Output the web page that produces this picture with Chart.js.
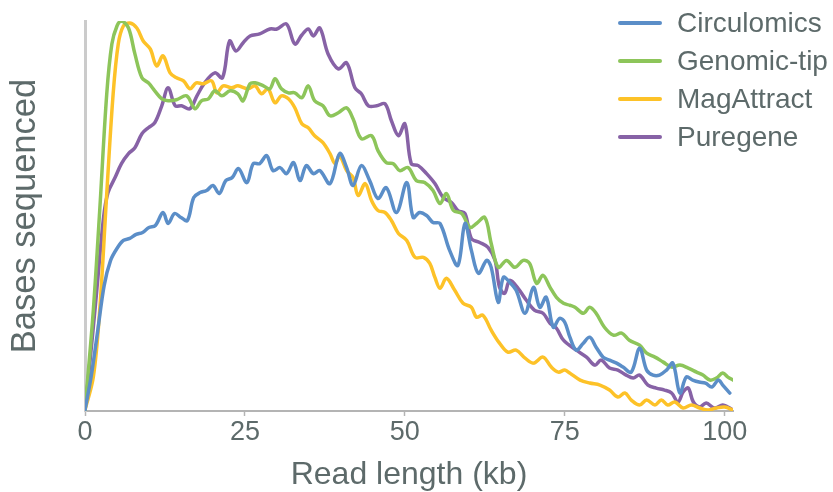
<!DOCTYPE html>
<html><head><meta charset="utf-8">
<script src="https://cdn.jsdelivr.net/npm/chart.js@4.4.0/dist/chart.umd.min.js"></script>
<style>
html,body{margin:0;padding:0;background:#fff;}
#wrap{position:relative;width:833px;height:492px;}
#legend{position:absolute;left:618px;top:4px;font-family:'Liberation Sans',Arial,sans-serif;font-size:28px;color:#5d6a6a;}
.item{display:flex;align-items:center;height:38px;white-space:nowrap;}
.sw{width:44px;height:4px;border-radius:2px;margin-right:15px;flex:none;}
</style></head><body>
<div id="wrap"><canvas id="c" width="833" height="492"></canvas><div id="legend"></div></div>
<script>
const seriesNames = ['Circulomics', 'Genomic-tip', 'MagAttract', 'Puregene'];
const seriesColors = ['#5b8ec8', '#8dc55a', '#fdc228', '#8762a6'];
const xTicks = [0, 25, 50, 75, 100];

const circX = [0,1,2,3,4,5,6,7,8,9,10,11,12.2,13,14,15,16,17,18,19,20,21,22,23,24,25.3,26.3,27.3,28.4,29.4,30.5,31.5,32.6,33.6,34.6,35.7,36.7,38.3,39.8,40.9,41.9,43.2,44.5,45.8,47.1,48.7,50.3,51.3,52.3,53.4,54.4,55.5,57,58.3,59.4,60.4,61.5,62.8,63.5,64.6,65.4,66.4,67.4,68.8,70.1,71.1,72.1,73.2,74.2,75,75.8,76.8,77.9,78.9,79.9,81,82,83.1,84.1,85.4,86.7,87.8,88.8,89.8,90.9,91.9,93,94,95,96,97,98,99,99.7,100.8];
const circY = [0,35,80,125,150,162,170,172,176,178,183,185,198,187,197,193,190,213,218,220,225,217,230,233,242,228,247,247,255,240,243,237,248,230,245,237,240,227,257,243,225,245,230,212,223,198,228,193,198,195,188,187,160,145,187,160,137,150,143,108,133,128,120,97,123,103,113,83,92,88,73,60,67,73,63,53,50,47,43,38,62,40,35,35,40,47,17,33,30,28,27,23,30,25,17];

const gtipX = [0,1.3,2.3,3.4,4.2,5,5.7,6.8,7.8,8.9,9.9,10.9,12,13,14.3,15.9,17.2,18.2,19.3,20.3,21.4,22.7,23.9,24.7,25.8,26.6,27.9,28.9,29.7,30.7,31.8,32.8,33.9,34.9,35.9,37.2,38.3,39.6,40.9,41.9,43.2,44.8,45.8,47.1,48.2,49.2,50.5,51.8,53.1,54.4,55.5,56.5,57.6,58.9,60.2,61.2,62.5,63.5,64.6,65.9,67.2,68.5,69.5,70.6,71.6,72.7,73.7,74.8,75.8,76.6,77.9,78.9,79.9,81.2,82.6,83.9,85.1,86.7,87.8,89.1,90.4,91.7,93,94.3,95.6,96.6,97.7,98.7,99.7,100.5,101.3];
const gtipY = [0,100,200,317,367,385,390,383,357,333,328,320,312,310,311,315,302,310,312,320,315,320,317,310,327,328,325,322,332,322,318,318,313,325,310,305,295,298,303,292,272,275,260,248,247,240,243,230,228,220,207,217,200,197,183,187,193,167,143,150,143,150,147,127,135,123,113,107,105,103,97,103,97,83,75,77,70,65,57,53,48,43,45,42,38,35,30,32,37,33,30];

const magX = [0,1.3,2.3,3.4,4.4,5.2,6,7,8.1,9.1,10.2,11.2,12.2,13.3,14.3,15.4,16.4,17.4,18.5,19.8,20.6,21.6,22.9,23.9,25.5,26.6,27.6,28.6,29.7,30.7,31.8,32.8,33.9,34.9,35.9,37.2,38.3,39.1,39.8,40.9,41.9,42.7,43.8,44.8,45.8,46.9,47.9,49,50.3,51.6,52.9,53.9,54.7,55.5,56.5,57.8,59.1,60.4,61.2,62.2,63.5,64.8,66.1,67.4,68.8,70.1,71.6,72.9,74,75,75.8,77.4,78.9,80.5,82,83.3,84.4,85.4,86.7,87.8,89.1,90.1,91.1,92.2,93.5,94.8,96.1,97.4,98.7,100,101.3];
const magY = [0,33,100,217,317,367,385,388,383,370,362,345,355,338,333,330,322,328,327,330,318,325,323,325,322,325,317,322,308,315,312,303,287,283,275,268,257,247,255,240,233,215,227,210,200,198,190,177,170,153,153,147,133,122,132,120,107,103,93,95,80,67,58,60,52,47,53,43,38,40,37,30,27,25,20,13,17,10,5,10,5,10,5,8,2,5,2,0,2,3,0];

const pureX = [0,0.8,1.8,2.9,3.6,4.7,5.7,6.8,7.8,8.9,9.9,10.9,12,13,14.1,15.1,16.4,17.5,18.7,20.3,21.5,22.6,23.6,24.7,25.8,27.3,28.9,30,31.5,32.8,33.9,34.9,35.7,36.7,38,39.6,40.9,42.2,43.2,44.3,45.6,46.9,47.9,49,50,51,52.1,53.4,54.7,56,57.3,58.3,59.4,60.4,61.7,63,64.1,64.8,65.6,66.4,67.7,69,70.3,71.6,72.7,73.7,74.8,76.8,78.4,79.7,80.7,82,83.3,84.6,85.7,86.7,88,89.3,90.6,91.7,92.7,93.5,94.3,95.1,96.1,97.1,98.4,99.7,100.5,101.3];
const pureY = [0,50,117,193,218,233,247,257,263,277,283,288,305,323,305,305,302,315,328,338,333,370,360,368,375,377,382,382,387,367,376,382,375,383,357,342,348,323,317,305,305,307,290,275,287,247,245,237,227,213,208,200,197,172,168,163,150,123,117,130,122,110,100,97,87,82,70,60,53,45,50,42,40,35,32,35,25,22,20,17,8,18,22,8,3,7,2,5,3,0];

const seriesX = [circX, gtipX, magX, pureX];
const seriesY = [circY, gtipY, magY, pureY];

const FONT = "'Liberation Sans', Arial, sans-serif";
const TEXT = '#5d6a6a';

const datasets = seriesNames.map((name, i) => ({
  label: name,
  data: seriesX[i].map((x, j) => ({x: x, y: seriesY[i][j]})),
  borderColor: seriesColors[i],
  backgroundColor: seriesColors[i],
  borderWidth: 3.5,
  pointRadius: 0,
  tension: 0.35,
  fill: false,
  borderCapStyle: 'round',
  borderJoinStyle: 'round'
}));

const chart = new Chart(document.getElementById('c'), {
  type: 'line',
  data: {datasets},
  options: {
    responsive: false,
    animation: false,
    layout: {padding: {left: 0, right: 100, top: 21, bottom: 0}},
    plugins: {legend: {display: false}, tooltip: {enabled: false}},
    scales: {
      x: {
        type: 'linear', min: 0, max: 101.3,
        afterBuildTicks: s => { s.ticks = xTicks.map(v => ({value: v})); },
        afterFit: s => { s.height = 81; },
        ticks: {font: {family: FONT, size: 27}, color: TEXT, padding: 0, maxRotation: 0, autoSkip: false},
        grid: {display: true, drawOnChartArea: false, drawTicks: true, tickLength: 5, color: '#b4b4b4', tickWidth: 1.5},
        border: {display: true, color: '#b4b4b4', width: 2},
        title: {display: true, text: 'Read length (kb)', font: {family: FONT, size: 32}, color: TEXT, padding: {top: 0, bottom: -2}}
      },
      y: {
        min: -1, max: 390,
        afterFit: s => { s.width = 85; },
        ticks: {display: false},
        grid: {display: false},
        border: {display: true, color: '#cbcbcb', width: 3},
        title: {display: true, text: 'Bases sequenced', font: {family: FONT, size: 34.5}, color: TEXT, padding: {top: 5, bottom: 0}}
      }
    }
  }
});

const legend = document.getElementById('legend');
chart.data.datasets.forEach(ds => {
  const item = document.createElement('div');
  item.className = 'item';
  const sw = document.createElement('span');
  sw.className = 'sw';
  sw.style.background = ds.borderColor;
  const t = document.createElement('span');
  t.textContent = ds.label;
  item.appendChild(sw); item.appendChild(t);
  legend.appendChild(item);
});
</script>
</body></html>
